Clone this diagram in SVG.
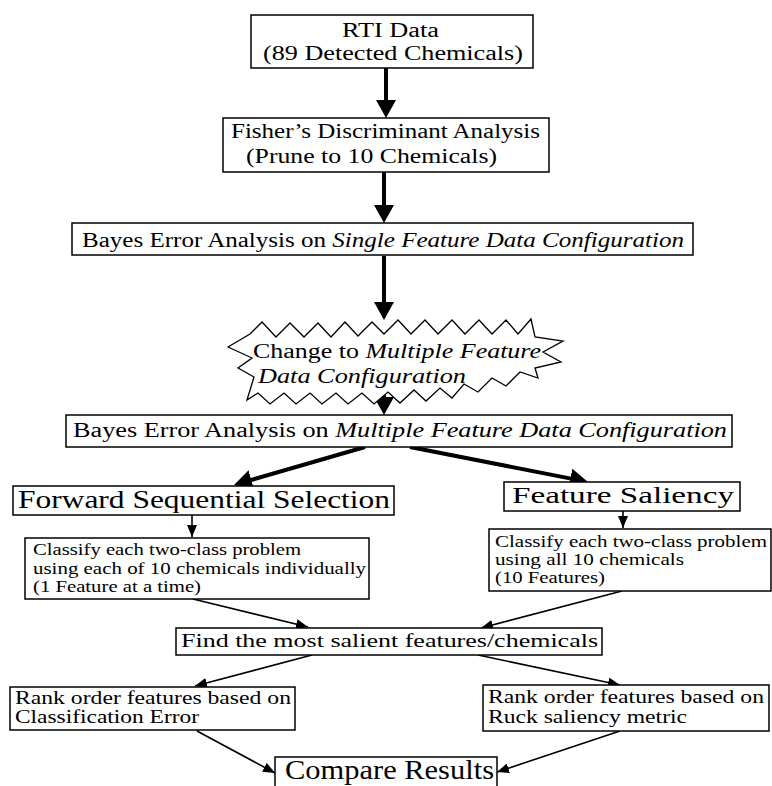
<svg xmlns="http://www.w3.org/2000/svg" width="772" height="786" viewBox="0 0 772 786">
<style>
.box{fill:#fff;stroke:#000;stroke-width:1.5}
text{font-family:"Liberation Serif","Times New Roman",serif;fill:#000}
.it{font-style:italic}
.thick{stroke:#000;stroke-width:4;fill:none}
.thin{stroke:#000;stroke-width:1.6;fill:none}
</style>
<defs>
<marker id="bigHead" markerUnits="userSpaceOnUse" markerWidth="20" markerHeight="20" refX="2" refY="10" orient="auto">
<path d="M0,0 L18,10 L0,20 z" fill="#000"/>
</marker>
<marker id="smallHead" markerUnits="userSpaceOnUse" markerWidth="13" markerHeight="10" refX="12" refY="5" orient="auto">
<path d="M0,0 L12,5 L0,10 z" fill="#000"/>
</marker>
</defs>
<rect width="772" height="786" fill="#fff"/>

<g id="connectors">
<line class="thick" x1="386" y1="68" x2="386" y2="102" marker-end="url(#bigHead)"/>
<line class="thick" x1="384" y1="172" x2="384" y2="207" marker-end="url(#bigHead)"/>
<line class="thick" x1="384" y1="256" x2="384" y2="304" marker-end="url(#bigHead)"/>
<line class="thick" x1="384" y1="394" x2="384" y2="399" marker-end="url(#bigHead)"/>
<line class="thick" x1="365" y1="447" x2="249.4" y2="480.5" marker-end="url(#bigHead)"/>
<line class="thick" x1="410" y1="447" x2="572.3" y2="478.9" marker-end="url(#bigHead)"/>
<line class="thin" x1="192" y1="515" x2="192" y2="537" marker-end="url(#smallHead)"/>
<line class="thin" x1="623" y1="511" x2="623" y2="528" marker-end="url(#smallHead)"/>
<line class="thin" x1="193" y1="599" x2="308" y2="627" marker-end="url(#smallHead)"/>
<line class="thin" x1="622" y1="591" x2="481" y2="628" marker-end="url(#smallHead)"/>
<line class="thin" x1="312" y1="655" x2="195" y2="686" marker-end="url(#smallHead)"/>
<line class="thin" x1="478" y1="655" x2="620" y2="685" marker-end="url(#smallHead)"/>
<line class="thin" x1="197" y1="731" x2="275" y2="773" marker-end="url(#smallHead)"/>
<line class="thin" x1="620" y1="731" x2="497" y2="772" marker-end="url(#smallHead)"/>
</g>

<g id="rti">
<rect class="box" x="251" y="15" width="282" height="53"/>
<text x="342" y="37" font-size="20" textLength="97" lengthAdjust="spacingAndGlyphs">RTI Data</text>
<text x="263" y="60" font-size="20" textLength="260" lengthAdjust="spacingAndGlyphs">(89 Detected Chemicals)</text>
</g>

<g id="fisher">
<rect class="box" x="223" y="118" width="326" height="54"/>
<text x="231" y="138" font-size="20" textLength="309" lengthAdjust="spacingAndGlyphs">Fisher’s Discriminant Analysis</text>
<text x="246" y="163" font-size="20" textLength="251" lengthAdjust="spacingAndGlyphs">(Prune to 10 Chemicals)</text>
</g>

<g id="bayesSingle">
<rect class="box" x="72" y="223" width="621" height="32"/>
<text x="82" y="247" font-size="20" textLength="602" lengthAdjust="spacingAndGlyphs">Bayes Error Analysis on <tspan class="it">Single Feature Data Configuration</tspan></text>
</g>

<g id="changeStar">
<polygon fill="#fff" stroke="#000" stroke-width="1.3" points="228,347 250,334 262,322 276,337 290,323 304,337 318,323 331,337 345,322 358,336 372,322 384,334 398,320 411,334 425,320 438,334 452,320 465,334 479,320 492,334 506,320 518,334 531,319 535,337 563,341 543,352 561,362 535,368 538,378 520,372 506,386 492,378 478,392 464,384 452,398 440,388 426,401 414,390 400,403 388,392 374,404 362,393 348,404 336,393 322,404 310,393 296,404 284,393 270,404 258,393 247,400 254,377 238,368 252,358"/>
<text x="253" y="358" font-size="20" textLength="288" lengthAdjust="spacingAndGlyphs">Change to <tspan class="it">Multiple Feature</tspan></text>
<text x="258" y="383" font-size="20" class="it" textLength="208" lengthAdjust="spacingAndGlyphs">Data Configuration</text>
</g>

<g id="bayesMultiple">
<rect class="box" x="66" y="415" width="666" height="32"/>
<text x="73" y="437" font-size="20" textLength="654" lengthAdjust="spacingAndGlyphs">Bayes Error Analysis on <tspan class="it">Multiple Feature Data Configuration</tspan></text>
</g>

<g id="fss">
<rect class="box" x="13" y="486" width="381" height="29"/>
<text x="18" y="508" font-size="25" textLength="372" lengthAdjust="spacingAndGlyphs">Forward Sequential Selection</text>
</g>

<g id="saliency">
<rect class="box" x="504" y="482" width="236" height="29"/>
<text x="512" y="503" font-size="24" textLength="222" lengthAdjust="spacingAndGlyphs">Feature Saliency</text>
</g>

<g id="classifyLeft">
<rect class="box" x="25" y="538" width="344" height="61"/>
<text x="33" y="555" font-size="16" textLength="268" lengthAdjust="spacingAndGlyphs">Classify each two-class problem</text>
<text x="33" y="574" font-size="16" textLength="333" lengthAdjust="spacingAndGlyphs">using each of 10 chemicals individually</text>
<text x="33" y="592" font-size="16" textLength="168" lengthAdjust="spacingAndGlyphs">(1 Feature at a time)</text>
</g>

<g id="classifyRight">
<rect class="box" x="489" y="529" width="282" height="62"/>
<text x="495" y="547" font-size="16" textLength="272" lengthAdjust="spacingAndGlyphs">Classify each two-class problem</text>
<text x="495" y="565" font-size="16" textLength="189" lengthAdjust="spacingAndGlyphs">using all 10 chemicals</text>
<text x="495" y="583" font-size="16" textLength="110" lengthAdjust="spacingAndGlyphs">(10 Features)</text>
</g>

<g id="findSalient">
<rect class="box" x="176" y="628" width="426" height="27"/>
<text x="181" y="647" font-size="19" textLength="417" lengthAdjust="spacingAndGlyphs">Find the most salient features/chemicals</text>
</g>

<g id="rankLeft">
<rect class="box" x="10" y="687" width="285" height="43"/>
<text x="15" y="704" font-size="18" textLength="276" lengthAdjust="spacingAndGlyphs">Rank order features based on</text>
<text x="15" y="723" font-size="18" textLength="184" lengthAdjust="spacingAndGlyphs">Classification Error</text>
</g>

<g id="rankRight">
<rect class="box" x="483" y="685" width="286" height="46"/>
<text x="488" y="703" font-size="18" textLength="276" lengthAdjust="spacingAndGlyphs">Rank order features based on</text>
<text x="488" y="723" font-size="18" textLength="199" lengthAdjust="spacingAndGlyphs">Ruck saliency metric</text>
</g>

<g id="compare">
<rect class="box" x="275" y="757" width="222" height="40"/>
<text x="285" y="779" font-size="27" textLength="209" lengthAdjust="spacingAndGlyphs">Compare Results</text>
</g>
</svg>
